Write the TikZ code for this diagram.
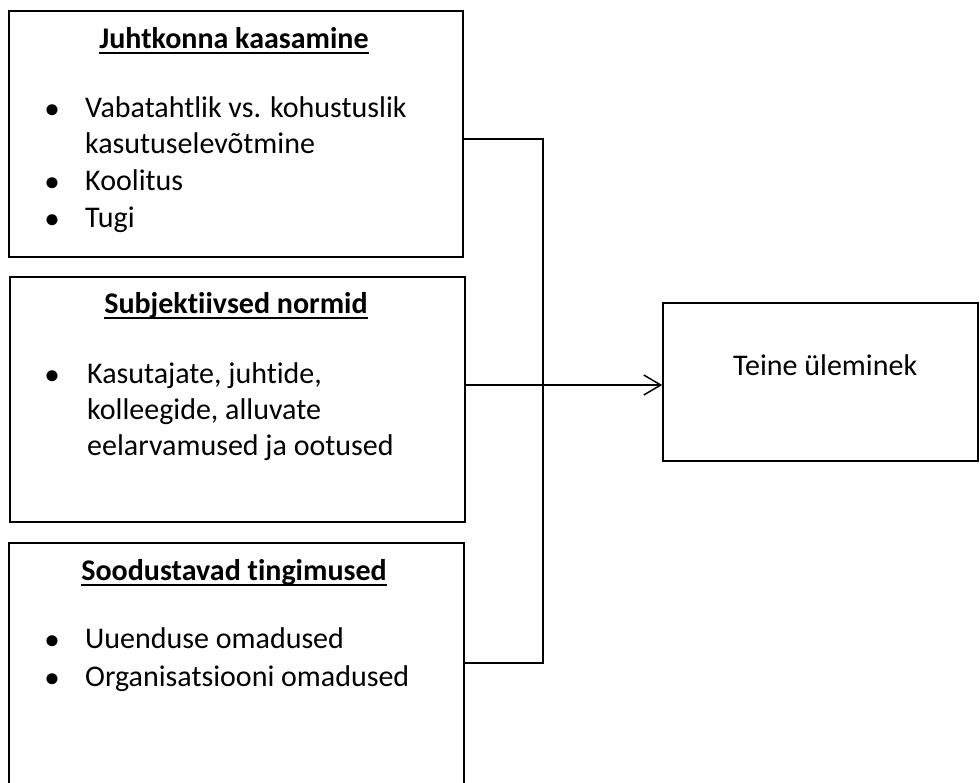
\documentclass[tikz,border=0pt]{standalone}
\usepackage{fontspec}
\setmainfont{Carlito}[Ligatures=NoCommon]
\usetikzlibrary{arrows.meta}
\begin{document}
\begin{tikzpicture}[x=1pt,y=-1pt,
  box/.style={draw,line width=1.5pt,rectangle,inner sep=0pt},
  ttl/.style={anchor=base,inner sep=0pt,font=\fontsize{30}{36}\selectfont\bfseries},
  txt/.style={anchor=base west,inner sep=0pt,font=\fontsize{30}{36}\selectfont},
  bul/.style={anchor=base,inner sep=0pt,font=\fontsize{26}{31}\selectfont\bfseries},
  uline/.style={line width=1.8pt},
  conn/.style={line width=1.5pt},
  arr/.style={line width=1.5pt,-{Straight Barb[length=17pt,width=20pt,line width=1.5pt]}}]
\path[clip] (0,0) rectangle (980,782);
% boxes
\node[box,minimum width=454pt,minimum height=246pt] (b1) at (236,134) {};
\node[box,minimum width=455pt,minimum height=245pt] (b2) at (237.5,399.5) {};
\node[box,minimum width=455pt,minimum height=267pt] (b3) at (236.5,676.5) {};
\node[box,minimum width=315pt,minimum height=158pt] (tgt) at (820.5,382) {};
% box 1 text
\node[ttl] (t1) at (234,48) {Juhtkonna kaasamine};
\draw[uline] ([yshift=-5pt]t1.base west) -- ([yshift=-5pt]t1.base east);
\node[bul] (b1p1) at (52,117) {•};
\node[txt] (b1l1) at (85,117) {Vabatahtlik vs. kohustuslik};
\node[txt] (b1l2) at (85,153) {kasutuselevõtmine};
\node[bul] (b1p2) at (52,190) {•};
\node[txt] (b1l3) at (85,190) {Koolitus};
\node[bul] (b1p3) at (52,227) {•};
\node[txt] (b1l4) at (85,227) {Tugi};
% box 2 text
\node[ttl] (t2) at (236,313) {Subjektiivsed normid};
\draw[uline] ([yshift=-5pt]t2.base west) -- ([yshift=-5pt]t2.base east);
\node[bul] (b2p1) at (52,383) {•};
\node[txt] (b2l1) at (87,383) {Kasutajate, juhtide,};
\node[txt] (b2l2) at (87,419) {kolleegide, alluvate};
\node[txt] (b2l3) at (87,455) {eelarvamused ja ootused};
% box 3 text
\node[ttl] (t3) at (234,580) {Soodustavad tingimused};
\draw[uline] ([yshift=-5pt]t3.base west) -- ([yshift=-5pt]t3.base east);
\node[bul] (b3p1) at (52,648) {•};
\node[txt] (b3l1) at (85,648) {Uuenduse omadused};
\node[bul] (b3p2) at (52,686) {•};
\node[txt] (b3l2) at (85,686) {Organisatsiooni omadused};
% target text
\node[txt] (tt) at (733,375) {Teine üleminek};
% connectors
\coordinate (j1) at (543,139);
\coordinate (j2) at (543,663);
\coordinate (ay) at (600,385);
\draw[conn] (b1.east |- j1) -- (j1) -- (j2) -- (b3.east |- j2);
\draw[arr] (b2.east |- ay) -- (tgt.west |- ay);
\end{tikzpicture}
\end{document}
